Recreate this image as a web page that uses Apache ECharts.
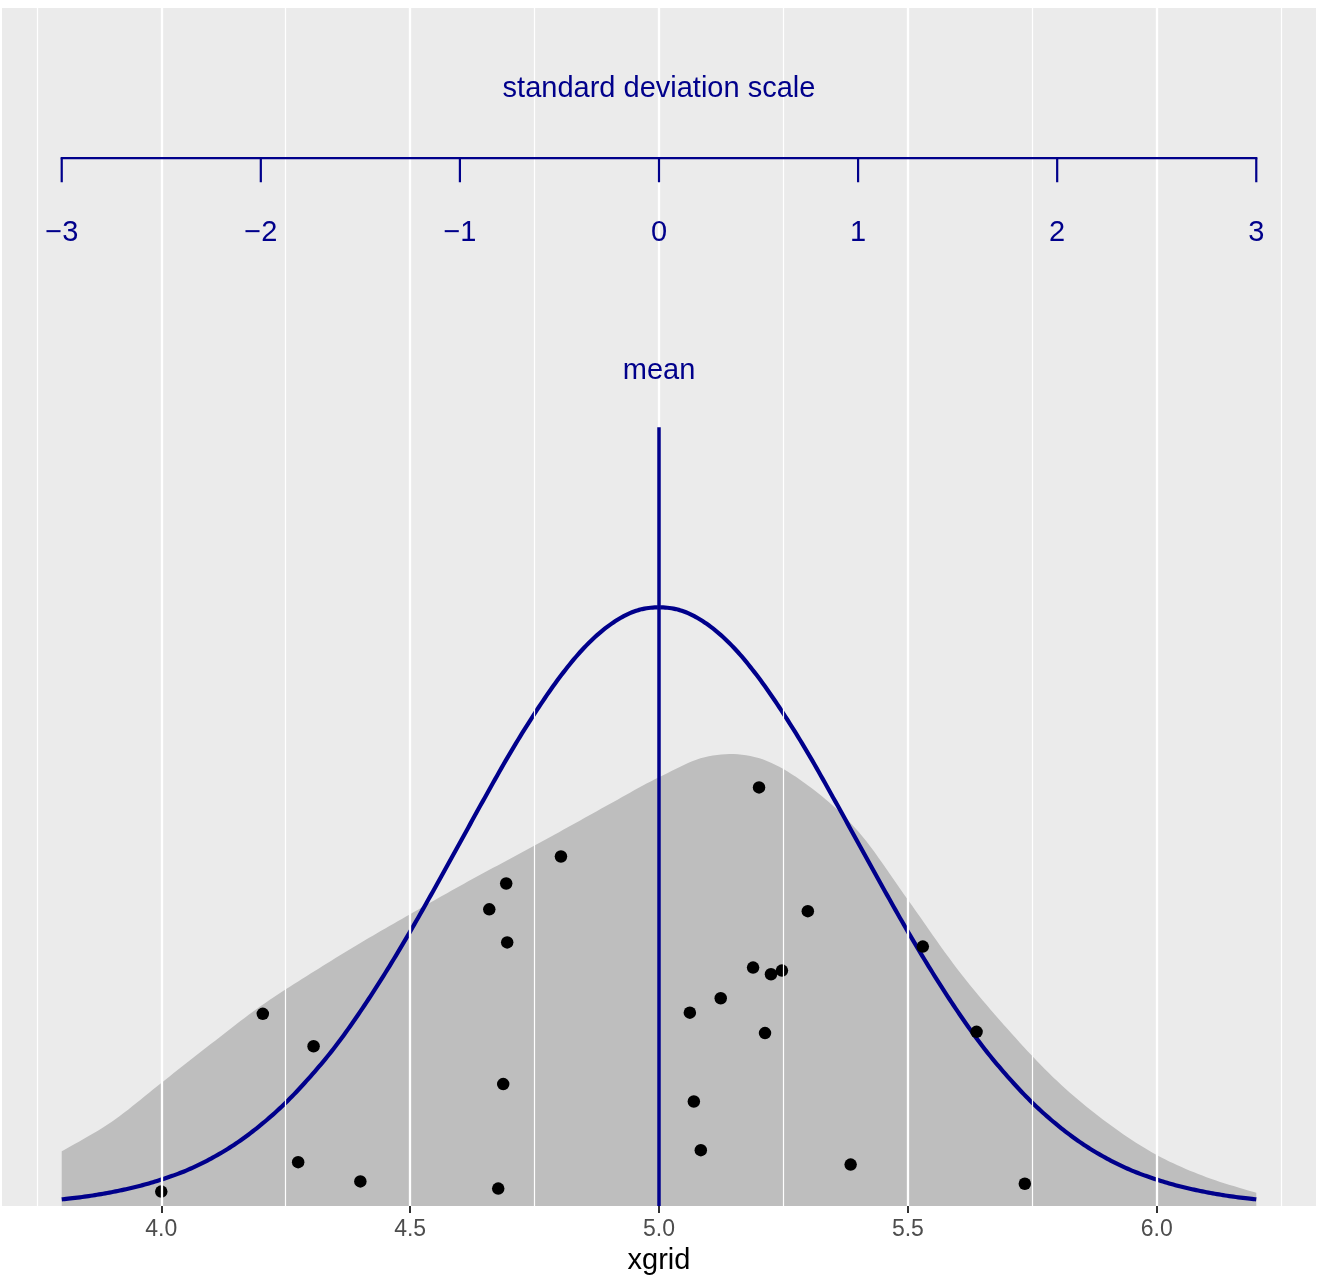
<!DOCTYPE html>
<html>
<head>
<meta charset="utf-8">
<script src="https://cdn.jsdelivr.net/npm/echarts@6/dist/echarts.min.js"></script>
<style>
  html, body { margin: 0; padding: 0; background: #ffffff; }
  #chart { width: 1317px; height: 1277px; }
</style>
</head>
<body>
<div id="chart"></div>
<script>
// ---------- data ----------
const xTicks = [4.0, 4.5, 5.0, 5.5, 6.0];
const xMinorGrid = [3.75, 4.25, 4.75, 5.25, 5.75, 6.25];

// observed points (x, jittered height)
const pointsX = [4.000, 4.204, 4.275, 4.306, 4.400, 4.659, 4.677, 4.687, 4.693, 4.695, 4.803, 5.062, 5.070, 5.084, 5.124, 5.189, 5.201, 5.213, 5.225, 5.247, 5.299, 5.385, 5.530, 5.638, 5.735];
const pointsY = [0.024, 0.320, 0.073, 0.266, 0.041, 0.494, 0.029, 0.203, 0.537, 0.439, 0.582, 0.322, 0.174, 0.093, 0.346, 0.397, 0.697, 0.288, 0.386, 0.392, 0.491, 0.069, 0.432, 0.290, 0.037];

// grey density area
const densX = [3.8, 3.9, 4.0, 4.1, 4.2, 4.3, 4.4, 4.5, 4.6, 4.7, 4.8, 4.9, 5.0, 5.1, 5.2, 5.3, 5.4, 5.5, 5.6, 5.7, 5.8, 5.9, 6.0, 6.1, 6.2];
const densY = [0.091, 0.140, 0.205, 0.270, 0.333, 0.387, 0.438, 0.486, 0.533, 0.578, 0.623, 0.669, 0.714, 0.749, 0.746, 0.700, 0.624, 0.510, 0.394, 0.295, 0.208, 0.139, 0.085, 0.048, 0.022];

// blue normal curve
const normX = [3.80, 3.85, 3.90, 3.95, 4.00, 4.05, 4.10, 4.15, 4.20, 4.25, 4.30, 4.35, 4.40, 4.45, 4.50, 4.55, 4.60, 4.65, 4.70, 4.75, 4.80, 4.85, 4.90, 4.95, 5.00,
               5.05, 5.10, 5.15, 5.20, 5.25, 5.30, 5.35, 5.40, 5.45, 5.50, 5.55, 5.60, 5.65, 5.70, 5.75, 5.80, 5.85, 5.90, 5.95, 6.00, 6.05, 6.10, 6.15, 6.20];
const normY = [0.011, 0.016, 0.023, 0.032, 0.044, 0.059, 0.079, 0.104, 0.135, 0.172, 0.216, 0.266, 0.324, 0.388, 0.457, 0.530, 0.605, 0.680, 0.753, 0.820, 0.880, 0.930, 0.967, 0.990, 0.997,
               0.990, 0.967, 0.930, 0.880, 0.820, 0.753, 0.680, 0.605, 0.530, 0.457, 0.388, 0.324, 0.266, 0.216, 0.172, 0.135, 0.104, 0.079, 0.059, 0.044, 0.032, 0.023, 0.016, 0.011];

// standard deviation scale annotation
const meanValue = 5.0;
const sdValue = 0.4;
const sdTicks = [-3, -2, -1, 0, 1, 2, 3];
const sdTickLabels = ['\u22123', '\u22122', '\u22121', '0', '1', '2', '3'];
const sdLineY = 1.745;
const sdTickBottomY = 1.705;
const sdLabelY = 1.620;
const sdTitleY = 1.860;
const meanLabelY = 1.390;
const meanLineTop = 1.297;
const annotationTexts = ['standard deviation scale', 'mean'];
const annotationY = [sdTitleY, meanLabelY];

// ---------- build ----------
const navy = '#00008B';
const FONT = '"Liberation Sans", Arial, Helvetica, sans-serif';

const sdX = sdTicks.map(s => meanValue + s * sdValue);
const sdTickSegs = [];
sdX.forEach((x, i) => {
  sdTickSegs.push([x, sdLineY], [x, sdTickBottomY]);
  if (i < sdX.length - 1) sdTickSegs.push('-');
});

// Catmull-Rom smoothing of pixel coordinates (rendering only)
function smoothPixels(pts, steps) {
  const out = [];
  const n = pts.length;
  for (let i = 0; i < n - 1; i++) {
    const p0 = pts[Math.max(0, i - 1)], p1 = pts[i], p2 = pts[i + 1], p3 = pts[Math.min(n - 1, i + 2)];
    for (let s = 0; s < steps; s++) {
      const t = s / steps, t2 = t * t, t3 = t2 * t;
      const f = k => 0.5 * (2 * p1[k] + (-p0[k] + p2[k]) * t + (2 * p0[k] - 5 * p1[k] + 4 * p2[k] - p3[k]) * t2 + (-p0[k] + 3 * p1[k] - 3 * p2[k] + p3[k]) * t3);
      out.push([f(0), f(1)]);
    }
  }
  out.push(pts[n - 1].slice());
  return out;
}

function curveSeries(xs, ys, isArea, style, z) {
  return {
    type: 'custom', z: z, silent: true,
    data: [[xs[0], ys[0]]],
    encode: { x: 0, y: 1 },
    renderItem: (params, api) => {
      const px = xs.map((x, i) => api.coord([x, ys[i]]));
      const curve = smoothPixels(px, 12);
      if (isArea) {
        const base0 = api.coord([xs[0], 0]);
        const base1 = api.coord([xs[xs.length - 1], 0]);
        curve.push(base1, base0);
        return { type: 'polygon', shape: { points: curve }, style: style };
      }
      return { type: 'polyline', shape: { points: curve }, style: style };
    }
  };
}

function textSeries(xs, ys, texts, z) {
  return {
    type: 'custom', z: z, silent: true,
    data: xs.map((x, i) => [x, ys[i], i]),
    encode: { x: 0, y: 1 },
    renderItem: (params, api) => {
      const p = api.coord([api.value(0), api.value(1)]);
      return {
        type: 'text', x: p[0], y: p[1],
        style: {
          text: texts[api.value(2)], fill: navy,
          font: '29px ' + FONT, align: 'center', verticalAlign: 'middle'
        }
      };
    }
  };
}

const chart = echarts.init(document.getElementById('chart'), null, { renderer: 'canvas' });

const option = {
  animation: false,
  backgroundColor: '#ffffff',
  grid: {
    left: 2, right: 1, top: 8, bottom: 71,
    outerBoundsMode: 'none', containLabel: false,
    show: true, backgroundColor: '#EBEBEB', borderWidth: 0
  },
  xAxis: {
    type: 'value', min: 3.68, max: 6.32,
    name: 'xgrid', nameLocation: 'middle', nameGap: 40,
    nameTextStyle: { color: '#000000', fontSize: 29, fontFamily: FONT },
    axisLine: { show: false },
    axisTick: { show: true, length: 7, customValues: xTicks, lineStyle: { color: '#333333', width: 2 } },
    axisLabel: {
      show: true, customValues: xTicks, margin: 12,
      color: '#4D4D4D', fontSize: 23, fontFamily: FONT,
      formatter: v => v.toFixed(1)
    },
    splitLine: { show: false }
  },
  yAxis: {
    type: 'value', min: 0, max: 1.995, show: false,
    splitLine: { show: false }
  },
  series: [
    { // minor grid lines
      type: 'line', data: [], z: 1, silent: true,
      markLine: {
        silent: true, symbol: ['none', 'none'], label: { show: false },
        lineStyle: { color: '#ffffff', width: 1.2, type: 'solid' },
        data: xMinorGrid.map(v => ({ xAxis: v }))
      }
    },
    { // major grid lines
      type: 'line', data: [], z: 1, silent: true,
      markLine: {
        silent: true, symbol: ['none', 'none'], label: { show: false },
        lineStyle: { color: '#ffffff', width: 2.3, type: 'solid' },
        data: xTicks.map(v => ({ xAxis: v }))
      }
    },
    // density area
    curveSeries(densX, densY, true, { fill: '#BEBEBE', stroke: null }, 2),
    // normal curve
    curveSeries(normX, normY, false, { fill: null, stroke: navy, lineWidth: 4.2, lineJoin: 'round' }, 3),
    { // points
      type: 'scatter', z: 4, symbolSize: 12.5,
      data: pointsX.map((x, i) => [x, pointsY[i]]),
      itemStyle: { color: '#000000', opacity: 1 }
    },
    { // mean line
      type: 'line', z: 5, symbol: 'none',
      data: [[meanValue, 0], [meanValue, meanLineTop]],
      lineStyle: { color: navy, width: 3.5 }
    },
    { // sd scale horizontal line
      type: 'line', z: 5, symbol: 'none',
      data: [[sdX[0], sdLineY], [sdX[sdX.length - 1], sdLineY]],
      lineStyle: { color: navy, width: 2.2, cap: 'square' }
    },
    { // sd ticks
      type: 'line', z: 5, symbol: 'none', connectNulls: false,
      data: sdTickSegs,
      lineStyle: { color: navy, width: 2.2 }
    },
    // sd tick labels
    textSeries(sdX, sdX.map(() => sdLabelY), sdTickLabels, 6),
    // annotations
    textSeries([meanValue, meanValue], annotationY, annotationTexts, 6)
  ]
};
chart.setOption(option);
</script>
</body>
</html>
